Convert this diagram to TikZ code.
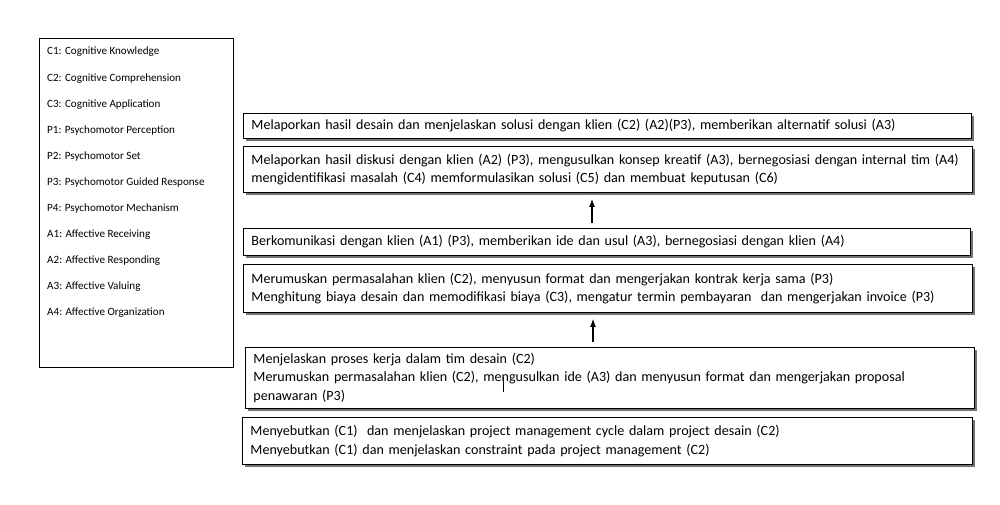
\documentclass[tikz,border=0pt]{standalone}
\usepackage{fontspec}
\setmainfont{Carlito}
\usetikzlibrary{arrows.meta,shadows}
\begin{document}
\begin{tikzpicture}[x=1pt,y=-1pt,
  legendbox/.style={draw=black, line width=0.8pt},
  legendtext/.style={anchor=west, inner sep=0pt, font=\fontsize{11.1}{13}\selectfont},
  stepbox/.style={draw=black, line width=0.9pt, fill=white, anchor=north west,
    inner xsep=8pt, inner ysep=0pt, align=left,
    font=\fontsize{14.1}{18.5}\selectfont,
    drop shadow={shadow xshift=3pt, shadow yshift=-3pt, fill=black!55, opacity=1}},
  uparrow/.style={-{Latex[length=8pt,width=6pt]}, line width=1.1pt, shorten <=5pt, shorten >=6pt}]
\useasboundingbox (0,0) rectangle (1000,504);

% legend of the competency codes
\node[legendbox, minimum width=194pt, minimum height=329pt, anchor=north west, inner sep=0pt] (legend) at (39,38) {};
\foreach \t [count=\i] in {C1: Cognitive Knowledge, C2: Cognitive Comprehension,
    C3: Cognitive Application, P1: Psychomotor Perception, P2: Psychomotor Set,
    P3: Psychomotor Guided Response, P4: Psychomotor Mechanism,
    A1: Affective Receiving, A2: Affective Responding, A3: Affective Valuing,
    A4: Affective Organization}
  \node[legendtext] (l\i) at (47,{52+26.1*(\i-1)}) {\t};

% competency steps, top to bottom
\node[stepbox, minimum width=728pt, minimum height=25pt, text width=712pt] (b1) at (243,113)
  {Melaporkan hasil desain dan menjelaskan solusi dengan klien (C2) (A2)(P3), memberikan alternatif solusi (A3)};
\node[stepbox, minimum width=729pt, minimum height=46pt, text width=713pt] (b2) at (243,146)
  {Melaporkan hasil diskusi dengan klien (A2) (P3), mengusulkan konsep kreatif (A3), bernegosiasi dengan internal tim (A4)\\
   mengidentifikasi masalah (C4) memformulasikan solusi (C5) dan membuat keputusan (C6)};
\node[stepbox, minimum width=727pt, minimum height=27pt, text width=711pt] (b3) at (243,228)
  {Berkomunikasi dengan klien (A1) (P3), memberikan ide dan usul (A3), bernegosiasi dengan klien (A4)};
\node[stepbox, minimum width=729pt, minimum height=48pt, text width=713pt] (b4) at (243,264)
  {Merumuskan permasalahan klien (C2), menyusun format dan mengerjakan kontrak kerja sama (P3)\\
   Menghitung biaya desain dan memodifikasi biaya (C3), mengatur termin pembayaran\ \ dan mengerjakan invoice (P3)};
\node[stepbox, minimum width=729pt, minimum height=61pt, text width=713pt] (b5) at (245,347)
  {Menjelaskan proses kerja dalam tim desain (C2)\\
   Merumuskan permasalahan klien (C2), mengusulkan ide (A3) dan menyusun format dan mengerjakan proposal\\
   penawaran (P3)};
\node[stepbox, minimum width=730pt, minimum height=47pt, text width=714pt] (b6) at (242,417)
  {Menyebutkan (C1)\ \ dan menjelaskan project management cycle dalam project desain (C2)\\
   Menyebutkan (C1) dan menjelaskan constraint pada project management (C2)};

% progression arrows
\coordinate (ax1) at (592,0);
\coordinate (ax2) at (593,0);
\draw[uparrow] (b3.north -| ax1) -- (b2.south -| ax1);
\draw[uparrow] (b5.north -| ax2) -- (b4.south -| ax2);

% text cursor mark left in the proposal line
\coordinate (cur) at (503,377);
\draw[line width=0.8pt] (cur) -- ++(0,15);
\end{tikzpicture}
\end{document}
